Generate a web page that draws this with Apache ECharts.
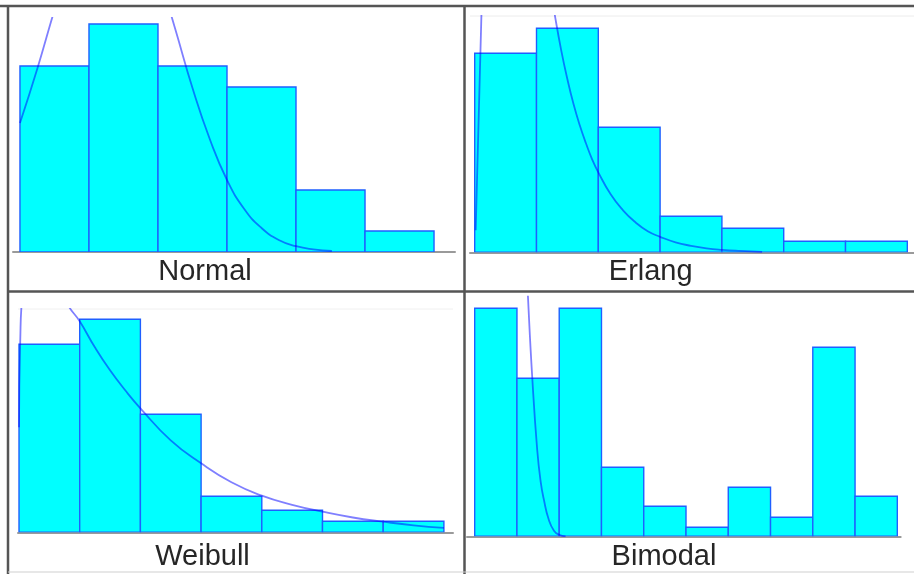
<!DOCTYPE html>
<html>
<head>
<meta charset="utf-8">
<script src="https://cdn.jsdelivr.net/npm/echarts@6/dist/echarts.min.js"></script>
<style>
html,body{margin:0;padding:0;background:#fff;}
#chart{width:914px;height:574px;}
</style>
</head>
<body>
<div id="chart"></div>
<script>
// ---- Data (bar heights per bin, fitted-curve points [bin position, height]) ----
const panelTitles = ["Normal", "Erlang", "Weibull", "Bimodal"];

const normalBins  = [186, 228, 186, 165, 62, 21];
const erlangBins  = [199, 224, 125, 36, 24, 11, 11];
const weibullBins = [188, 213, 118, 36, 22, 11, 11];
const bimodalBins = [228, 158, 228, 69, 30, 9, 49, 19, 189, 40];

const normalCurve = [[0,129],[0.25,183],[0.5,242],[0.75,298],[1,340],[1.333,363],[1.5,357],[1.75,328],[2,280],[2.25,223],[2.5,164],[2.75,113],[3,72],[3.25,43],[3.5,24],[3.75,12],[4,5.8],[4.25,2.6],[4.52,1]];
const erlangCurve = [[0.016,22],[0.11,240],[0.3,560],[0.7,600],[1.0,376],[1.2,274],[1.3,236],[1.4,202],[1.5,173],[1.6,148],[1.7,127],[1.8,109],[1.9,93],[2.0,80],[2.2,58],[2.4,42],[2.6,30],[2.8,21],[3.0,15.5],[3.25,10],[3.5,6.5],[3.75,4],[4.0,2.5],[4.3,1.4],[4.65,0.5]];
const weibullCurve = [[0,105],[0.02,190],[0.06,240],[0.3,330],[0.5,300],[0.7,245],[0.8,228],[1.0,211],[1.25,185],[1.5,162],[1.75,142],[2,124],[2.5,92],[3,69],[3.5,50],[4,36.6],[4.5,27.5],[5,20.6],[5.5,14.8],[6,10.6],[6.5,7],[7,4.5]];
const bimodalCurve = [[1.22,280],[1.26,240],[1.363,158],[1.48,86],[1.56,55],[1.64,36],[1.75,17],[1.876,5.6],[2.0,1.5],[2.15,0]];

const allBins = [normalBins, erlangBins, weibullBins, bimodalBins];
const allCurves = [normalCurve, erlangCurve, weibullCurve, bimodalCurve];

// ---- Layout ----
const grids = [
  {left:13,  top:18,    width:442,   height:234},
  {left:470, top:16,    width:444,   height:236.3},
  {left:18,  top:309,   width:435,   height:223.3},
  {left:467, top:296.7, width:433.7, height:239.6}
];
const xRanges = [[-0.101, 6.304], [-0.076, 7.108], [-0.0165, 7.15], [-0.182, 10.08]];
const labelPos = [[205, 271.5], [650.7, 271.5], [202.5, 556.5], [664, 556.5]];

function renderBar(params, api) {
  const i = api.value(0), h = api.value(1);
  const p0 = api.coord([i, h]);
  const p1 = api.coord([i + 1, 0]);
  return {
    type: 'rect',
    shape: {x: p0[0], y: p0[1], width: p1[0] - p0[0], height: p1[1] - p0[1]},
    style: {fill: '#00ffff', stroke: '#1f5fff', lineWidth: 1.4}
  };
}

const xAxes = [], yAxes = [], series = [];
grids.forEach((g, k) => {
  xAxes.push({
    type: 'value', gridIndex: k, min: xRanges[k][0], max: xRanges[k][1],
    axisLine: {show: true, onZero: false, lineStyle: {color: '#9a9a9a', width: 2}},
    axisTick: {show: false}, axisLabel: {show: false}, splitLine: {show: false}
  });
  yAxes.push({
    type: 'value', gridIndex: k, min: 0, max: g.height, show: false, splitLine: {show: false}
  });
  series.push({
    type: 'custom', xAxisIndex: k, yAxisIndex: k,
    renderItem: renderBar, encode: {x: 0, y: 1}, clip: true, z: 2,
    data: allBins[k].map((v, i) => [i, v])
  });
  series.push({
    type: 'line', xAxisIndex: k, yAxisIndex: k, clip: true, z: 3,
    showSymbol: false, smooth: 0.5,
    lineStyle: {color: 'rgba(0,0,255,0.5)', width: 1.8},
    data: allCurves[k]
  });
});

const frameColor = '#555';
const graphic = [
  {type:'line', shape:{x1:0, y1:6, x2:914, y2:6}, style:{stroke:frameColor, lineWidth:2.5}, z:10},
  {type:'line', shape:{x1:8, y1:5, x2:8, y2:574}, style:{stroke:frameColor, lineWidth:2.5}, z:10},
  {type:'line', shape:{x1:464.5, y1:5, x2:464.5, y2:574}, style:{stroke:frameColor, lineWidth:2.5}, z:10},
  {type:'line', shape:{x1:8, y1:291.5, x2:914, y2:291.5}, style:{stroke:frameColor, lineWidth:2.5}, z:10},
  {type:'line', shape:{x1:8, y1:572, x2:914, y2:572}, style:{stroke:'#cfcfcf', lineWidth:1}, z:10},
  {type:'line', shape:{x1:470, y1:16, x2:914, y2:16}, style:{stroke:'#ececec', lineWidth:1}, z:0},
  {type:'line', shape:{x1:18, y1:309, x2:453, y2:309}, style:{stroke:'#f0f0f0', lineWidth:1}, z:0}
];
panelTitles.forEach((t, k) => {
  graphic.push({
    type: 'text', x: labelPos[k][0], y: labelPos[k][1], z: 10,
    style: {text: t, fill: '#262626', font: '29px "Liberation Sans", Arial, sans-serif',
            textAlign: 'center', textVerticalAlign: 'middle'}
  });
});

const chart = echarts.init(document.getElementById('chart'), null, {renderer: 'canvas'});
chart.setOption({
  animation: false,
  backgroundColor: '#ffffff',
  grid: grids.map(g => Object.assign({containLabel: false}, g)),
  xAxis: xAxes,
  yAxis: yAxes,
  series: series,
  graphic: graphic
});
</script>
</body>
</html>
